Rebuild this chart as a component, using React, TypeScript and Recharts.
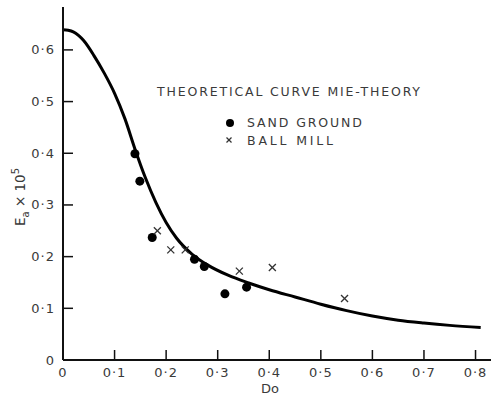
import React from "react";
import {
  ComposedChart,
  Line,
  Scatter,
  XAxis,
  YAxis,
  Customized,
} from "recharts";

// Theoretical curve (Mie theory)
const curveX = [0, 0.01, 0.02, 0.03, 0.04, 0.06, 0.08, 0.1, 0.12, 0.14, 0.16, 0.18, 0.2, 0.22, 0.25, 0.28, 0.32, 0.36, 0.4, 0.45, 0.5, 0.55, 0.6, 0.65, 0.7, 0.75, 0.81];
const curveY = [0.639, 0.638, 0.635, 0.628, 0.618, 0.589, 0.555, 0.516, 0.467, 0.407, 0.352, 0.305, 0.266, 0.236, 0.205, 0.184, 0.164, 0.149, 0.136, 0.122, 0.108, 0.0955, 0.085, 0.077, 0.0715, 0.067, 0.063];

// Sand ground (filled circles)
const sandX = [0.1395, 0.149, 0.173, 0.255, 0.274, 0.314, 0.356];
const sandY = [0.399, 0.346, 0.237, 0.195, 0.181, 0.128, 0.141];

// Ball mill (crosses)
const ballX = [0.183, 0.209, 0.237, 0.342, 0.406, 0.546];
const ballY = [0.25, 0.213, 0.213, 0.172, 0.179, 0.119];

const xTicks = [0, 0.1, 0.2, 0.3, 0.4, 0.5, 0.6, 0.7, 0.8];
const yTicks = [0, 0.1, 0.2, 0.3, 0.4, 0.5, 0.6];

const curveData = curveX.map((x, i) => ({ x, y: curveY[i] }));
const sandData = sandX.map((x, i) => ({ x, y: sandY[i] }));
const ballData = ballX.map((x, i) => ({ x, y: ballY[i] }));

const FONT = "'DejaVu Sans', sans-serif";
const TXT = "#3a3a3a";

const fmt = (v: number) => (v === 0 ? "0" : v.toFixed(1).replace(".", "\u00b7"));

const XTick = (props: any) => {
  const { x, y, payload } = props;
  const v = payload.value as number;
  return (
    <g>
      {v !== 0 && <line x1={x} y1={y} x2={x} y2={y - 10} stroke="#111" strokeWidth={1.5} />}
      <text x={x} y={y + 17} textAnchor="middle" fontFamily={FONT} fontSize={13} fill={TXT} letterSpacing={1}>
        {fmt(v)}
      </text>
    </g>
  );
};

const YTick = (props: any) => {
  const { x, y, payload } = props;
  const v = payload.value as number;
  return (
    <g>
      {v !== 0 && <line x1={x} y1={y} x2={x + 10} y2={y} stroke="#111" strokeWidth={1.5} />}
      <text x={x - 8} y={y + 4.5} textAnchor="end" fontFamily={FONT} fontSize={13} fill={TXT} letterSpacing={1}>
        {fmt(v)}
      </text>
    </g>
  );
};

const Dot = (props: any) => {
  const { cx, cy } = props;
  return <circle cx={cx} cy={cy} r={4.5} fill="#000" />;
};

const Cross = (props: any) => {
  const { cx, cy } = props;
  const s = 3.5;
  return (
    <g stroke="#333" strokeWidth={1.3}>
      <line x1={cx - s} y1={cy - s} x2={cx + s} y2={cy + s} />
      <line x1={cx - s} y1={cy + s} x2={cx + s} y2={cy - s} />
    </g>
  );
};

const LegendBox = () => (
  <g fontFamily={FONT} fill={TXT}>
    <text x={157} y={96} fontSize={12.5} textLength={263} lengthAdjust="spacing">
      THEORETICAL CURVE MIE-THEORY
    </text>
    <circle cx={230} cy={123} r={4} fill="#000" />
    <text x={247} y={127} fontSize={12.5} textLength={115} lengthAdjust="spacing">
      SAND GROUND
    </text>
    <g stroke="#333" strokeWidth={1.2}>
      <line x1={226.5} y1={137.5} x2={231.5} y2={142.5} />
      <line x1={226.5} y1={142.5} x2={231.5} y2={137.5} />
    </g>
    <text x={247} y={145} fontSize={12.5} textLength={86} lengthAdjust="spacing">
      BALL MILL
    </text>
    <text x={270} y={393} fontSize={13} textAnchor="middle">
      Do
    </text>
    <text transform="translate(25,197) rotate(-90)" fontSize={13.5} textAnchor="middle">
      E
      <tspan fontSize={10} dy={4}>a</tspan>
      <tspan dy={-4}> × 10</tspan>
      <tspan fontSize={10} dy={-6}>5</tspan>
    </text>
  </g>
);

export default function App() {
  return (
    <div style={{ position: "absolute", left: 0, top: 0, width: 500, height: 397, background: "#fff" }}>
      <ComposedChart width={500} height={397} margin={{ top: 7, right: 9, bottom: 0, left: 0 }}>
        <XAxis
          type="number"
          dataKey="x"
          domain={[0, 0.83]}
          ticks={xTicks}
          height={37}
          tickSize={0}
          tickMargin={0}
          tick={<XTick />}
          axisLine={{ stroke: "#111", strokeWidth: 2 }}
          tickLine={false}
          allowDataOverflow
        />
        <YAxis
          type="number"
          dataKey="y"
          domain={[0, 0.683]}
          ticks={yTicks}
          width={63}
          tickSize={0}
          tickMargin={0}
          tick={<YTick />}
          axisLine={{ stroke: "#111", strokeWidth: 2 }}
          tickLine={false}
          allowDataOverflow
        />
        <Line
          data={curveData}
          dataKey="y"
          type="monotone"
          stroke="#000"
          strokeWidth={3}
          dot={false}
          activeDot={false}
          isAnimationActive={false}
        />
        <Scatter data={sandData} dataKey="y" shape={<Dot />} isAnimationActive={false} />
        <Scatter data={ballData} dataKey="y" shape={<Cross />} isAnimationActive={false} />
        <Customized component={<LegendBox />} />
      </ComposedChart>
    </div>
  );
}
